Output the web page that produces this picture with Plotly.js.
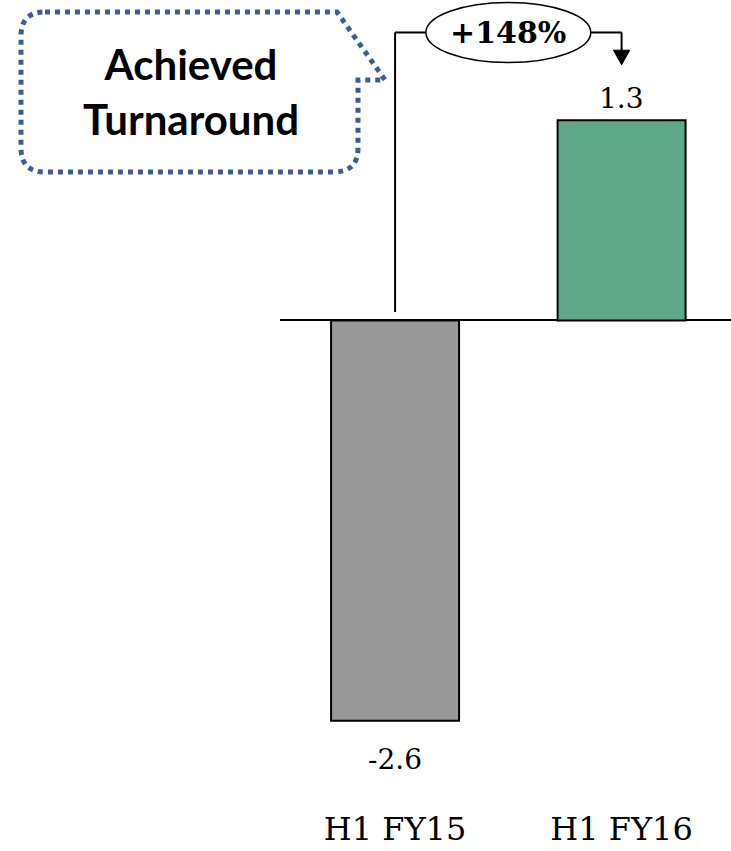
<!DOCTYPE html>
<html>
<head>
<meta charset="utf-8">
<script src="https://cdn.plot.ly/plotly-3.0.1.min.js"></script>
<style>
  html, body { margin: 0; padding: 0; background: #ffffff; }
  #chart { width: 731px; height: 851px; }
</style>
</head>
<body>
<div id="chart"></div>
<script>
// Net result by half-year
const categories = ['H1 FY15', 'H1 FY16'];
const values = [-2.6, 1.3];
const valueLabels = ['-2.6', '1.3'];
const barColors = ['#989898', '#5fa98a'];
const changeLabel = '+148%';
const calloutText = 'Achieved<br>Turnaround';

const serif = 'DejaVu Serif, Liberation Serif, serif';

// Plot area geometry (pixels) used to place the callout box in paper units
const W = 731, H = 851;
const M = { l: 280, r: 0, t: 0, b: 51 };
const PW = W - M.l - M.r, PH = H - M.t - M.b;
const px = x => (x - M.l) / PW;
const py = y => (PH + M.t - y) / PH;

const xIdx = categories.map((_, i) => i);

const bars = {
  type: 'bar',
  x: xIdx,
  y: values,
  width: 0.565,
  marker: { color: barColors, line: { color: '#000000', width: 2 } },
  hoverinfo: 'skip'
};

// bracket joining the two bars with the change bubble
const bracketY = 1.87;
const bubbleHalfW = 0.364;
const bubbleHalfH = 0.195;
const arrowBase = 1.755;
const arrowTip = 1.66;
const arrowHalfW = 0.036;

const lineStyle = { color: '#000000', width: 2 };

const shapes = [
  { type: 'line', xref: 'x', yref: 'y', x0: 0, x1: 0, y0: 0.055, y1: bracketY, line: lineStyle },
  { type: 'line', xref: 'x', yref: 'y', x0: 0, x1: 0.5 - bubbleHalfW, y0: bracketY, y1: bracketY, line: lineStyle },
  { type: 'line', xref: 'x', yref: 'y', x0: 0.5 + bubbleHalfW, x1: 1, y0: bracketY, y1: bracketY, line: lineStyle },
  { type: 'line', xref: 'x', yref: 'y', x0: 1, x1: 1, y0: bracketY, y1: arrowBase, line: lineStyle },
  { type: 'path', xref: 'x', yref: 'y',
    path: `M ${1 - arrowHalfW},${arrowBase} L ${1 + arrowHalfW},${arrowBase} L 1,${arrowTip} Z`,
    fillcolor: '#000000', line: { color: '#000000', width: 1 } },
  { type: 'circle', xref: 'x', yref: 'y',
    x0: 0.5 - bubbleHalfW, x1: 0.5 + bubbleHalfW,
    y0: bracketY - bubbleHalfH, y1: bracketY + bubbleHalfH,
    fillcolor: '#ffffff', line: { color: '#000000', width: 1.5 } }
];

// dotted speech-bubble callout with a tail pointing right
const r = 24;
const L = 21, T = 12, R = 358, B = 172;
const calloutPath = [
  `M ${px(L + r)},${py(T)}`,
  `L ${px(337)},${py(T)}`,
  `L ${px(385)},${py(80)}`,
  `L ${px(R)},${py(80)}`,
  `L ${px(R)},${py(B - r)}`,
  `Q ${px(R)},${py(B)} ${px(R - r)},${py(B)}`,
  `L ${px(L + r)},${py(B)}`,
  `Q ${px(L)},${py(B)} ${px(L)},${py(B - r)}`,
  `L ${px(L)},${py(T + r)}`,
  `Q ${px(L)},${py(T)} ${px(L + r)},${py(T)}`,
  'Z'
].join(' ');
shapes.push({
  type: 'path', xref: 'paper', yref: 'paper', path: calloutPath,
  line: { color: '#3d5f8f', width: 5, dash: '5px,5px' }, fillcolor: 'rgba(0,0,0,0)'
});

const annotations = values.map((v, i) => ({
  x: i, y: v, xref: 'x', yref: 'y',
  text: valueLabels[i], showarrow: false,
  yanchor: v >= 0 ? 'bottom' : 'top',
  yshift: v >= 0 ? 3 : -20,
  font: { family: serif, size: 28, color: '#000000' }
}));

annotations.push({
  x: 0.5, y: bracketY, xref: 'x', yref: 'y',
  text: '<b>' + changeLabel + '</b>', showarrow: false,
  font: { family: serif, size: 30, color: '#000000' }
});

annotations.push({
  x: px(191), y: py(91), xref: 'paper', yref: 'paper',
  xanchor: 'center', yanchor: 'middle',
  text: '<b>' + calloutText + '</b>', showarrow: false,
  font: { family: 'Lato, Open Sans, sans-serif', size: 42, color: '#000000' },
  align: 'center'
});

const layout = {
  width: W, height: H,
  margin: M,
  paper_bgcolor: '#ffffff',
  plot_bgcolor: '#ffffff',
  showlegend: false,
  xaxis: {
    range: [-0.508, 1.483],
    tickvals: xIdx, ticktext: categories,
    showgrid: false, zeroline: false, showline: false,
    ticks: '', ticklabelstandoff: 7,
    tickfont: { family: serif, size: 32, color: '#000000' },
    fixedrange: true
  },
  yaxis: {
    range: [-3.114, 2.081],
    showgrid: false, showticklabels: false, ticks: '',
    showline: false,
    zeroline: true, zerolinecolor: '#000000', zerolinewidth: 2,
    fixedrange: true
  },
  shapes: shapes,
  annotations: annotations
};

Plotly.newPlot('chart', [bars], layout, { displayModeBar: false, staticPlot: true });
</script>
</body>
</html>
